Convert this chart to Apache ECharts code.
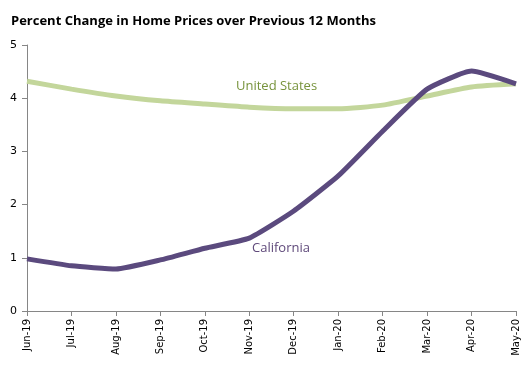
<!DOCTYPE html>
<html><head><meta charset="utf-8">
<script src="https://cdn.jsdelivr.net/npm/echarts@6/dist/echarts.min.js"></script>
<style>html,body{margin:0;padding:0;background:#fff}#c{width:531px;height:369px}</style>
</head><body><div id="c"></div>
<script>
const categories = ['Jun-19','Jul-19','Aug-19','Sep-19','Oct-19','Nov-19','Dec-19','Jan-20','Feb-20','Mar-20','Apr-20','May-20'];
const california = [0.98,0.85,0.79,0.96,1.18,1.37,1.88,2.54,3.38,4.17,4.51,4.27];
const unitedStates = [4.32,4.17,4.04,3.95,3.89,3.83,3.80,3.80,3.87,4.04,4.21,4.27];
const yTicks = [0,1,2,3,4,5];

const chart = echarts.init(document.getElementById('c'));
chart.setOption({
  animation:false,
  title:{text:'Percent Change in Home Prices over Previous 12 Months',left:6,top:10,
    textStyle:{fontFamily:'Open Sans',fontWeight:'bold',fontSize:13,color:'#000'}},
  grid:{left:27,right:15,top:45,bottom:58},
  xAxis:{type:'category',data:categories,boundaryGap:false,
    axisLine:{lineStyle:{color:'#868686'}},
    axisTick:{show:true,alignWithLabel:true,length:5,lineStyle:{color:'#868686'}},
    axisLabel:{rotate:90,fontFamily:'DejaVu Sans',fontSize:10,color:'#000',margin:8,interval:0}},
  yAxis:{type:'value',min:yTicks[0],max:yTicks[yTicks.length-1],interval:1,
    axisLine:{show:true,lineStyle:{color:'#868686'}},
    axisTick:{show:true,length:5,lineStyle:{color:'#868686'}},
    splitLine:{show:false},
    axisLabel:{fontFamily:'DejaVu Sans',fontSize:11,color:'#000',margin:10}},
  series:[
    {name:'United States',type:'line',data:unitedStates,smooth:0.2,symbol:'none',
      lineStyle:{color:'#c3d69b',width:5}},
    {name:'California',type:'line',data:california,smooth:0.15,symbol:'none',
      lineStyle:{color:'#5b4a7e',width:5}}
  ],
  graphic:[
    {type:'text',left:236,top:80,style:{text:'United States',font:'13px "Open Sans"',fill:'#77933c'}},
    {type:'text',left:252,top:242,style:{text:'California',font:'13px "Open Sans"',fill:'#5f497a'}}
  ]
});
</script></body></html>
